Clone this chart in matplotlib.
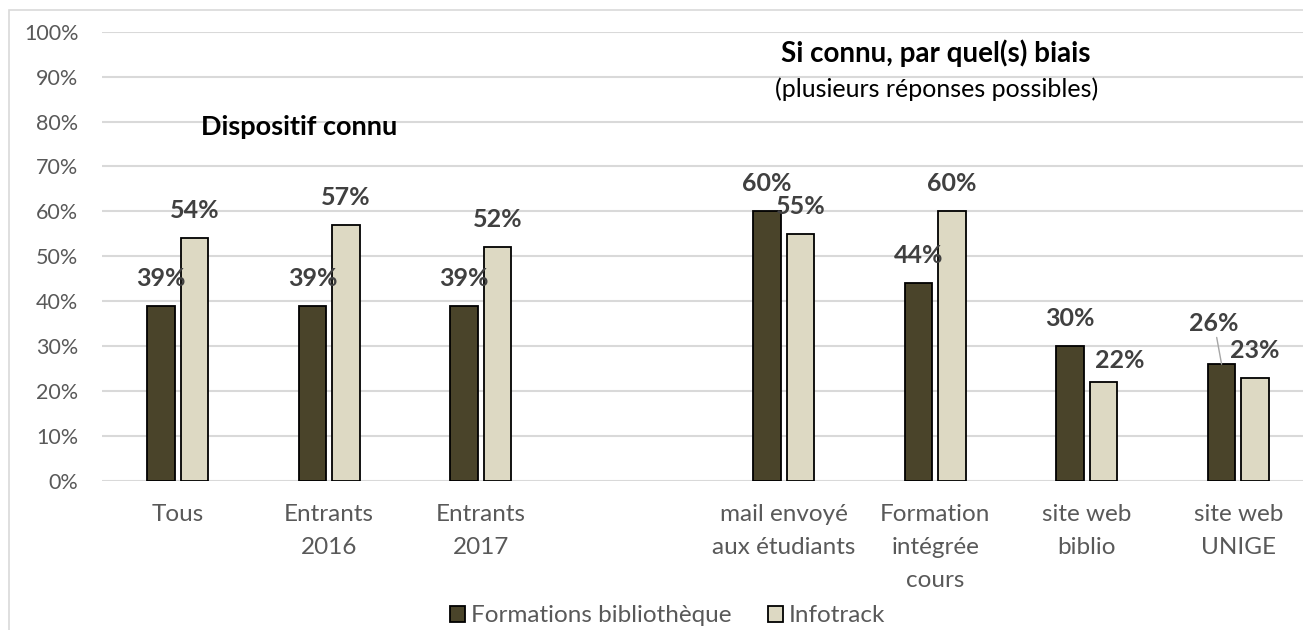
import matplotlib
matplotlib.use("Agg")
import matplotlib.pyplot as plt
import numpy as np
from matplotlib.patches import Rectangle, Patch

# ---- data ----
categories = ["Tous", "Entrants\n2016", "Entrants\n2017", "",
              "mail envoyé\naux étudiants", "Formation\nintégrée\ncours",
              "site web\nbiblio", "site web\nUNIGE"]
formations = [0.39, 0.39, 0.39, np.nan, 0.60, 0.44, 0.30, 0.26]
infotrack = [0.54, 0.57, 0.52, np.nan, 0.55, 0.60, 0.22, 0.23]
series_names = ["Formations bibliothèque", "Infotrack"]
yticks = [i / 10 for i in range(11)]
ytick_labels = [f"{i * 10}%" for i in range(11)]

# ---- style ----
W, H = 1303, 630
DARK = "#4a442a"
LIGHT = "#ddd9c3"
GRID = "#d9d9d9"
TICK = "#595959"
LABEL = "#404040"
plt.rcParams['font.family'] = ['Lato', 'DejaVu Sans']

fig = plt.figure(figsize=(W / 100, H / 100), dpi=100)
ax = fig.add_axes([102 / W, 149 / H, 1212 / W, 449.3 / H])

x = np.arange(len(categories))
off, bw = 0.11, 0.18
ax.bar(x - off, formations, bw, color=DARK, edgecolor="black", linewidth=1.3, zorder=3)
ax.bar(x + off, infotrack, bw, color=LIGHT, edgecolor="black", linewidth=1.3, zorder=3)

ax.set_xlim(-0.5, len(categories) - 0.5)
ax.set_ylim(0, 1)
ax.set_yticks(yticks)
ax.set_yticklabels(ytick_labels)
ax.set_xticks(x)
ax.set_xticklabels(categories, linespacing=1.7)
ax.tick_params(axis="both", length=0, colors=TICK)
ax.tick_params(axis="y", pad=17, labelsize=15.5)
ax.tick_params(axis="x", pad=16.5, labelsize=17.5)
ax.yaxis.grid(True, color=GRID, linewidth=1.5)
ax.set_axisbelow(True)
for s in ax.spines.values():
    s.set_visible(False)

# data labels (pixel offsets; a couple were moved by hand in the original)
moved = {(1, 6): (16, 22), (0, 7): (-7.5, 41)}
for si, (vals, sgn) in enumerate([(formations, -1), (infotrack, 1)]):
    for i, v in enumerate(vals):
        if np.isnan(v):
            continue
        dx, dy = moved.get((si, i), (0, 27.5))
        kw = {}
        if (si, i) == (0, 7):
            kw["arrowprops"] = dict(arrowstyle="-", color="#a6a6a6", lw=1,
                                    shrinkA=0, shrinkB=0)
        ax.annotate(f"{v * 100:.0f}%", xy=(i + sgn * off, v), xytext=(dx, dy),
                    textcoords="offset pixels", ha="center", va="center",
                    fontsize=18, fontweight="bold", color=LABEL, **kw)

# section titles
fig.text(299.5 / W, 1 - 127 / H, "Dispositif connu", ha="center", va="center",
         fontsize=19.5, fontweight="bold", color="black")
fig.text(936 / W, 1 - 53 / H, "Si connu, par quel(s) biais", ha="center", va="center",
         fontsize=20, fontweight="bold", color="black")
fig.text(936.5 / W, 1 - 89 / H, "(plusieurs réponses possibles)", ha="center", va="center",
         fontsize=18, color="black")

# legend
handles = [Patch(facecolor=DARK, edgecolor="black", linewidth=1.3),
           Patch(facecolor=LIGHT, edgecolor="black", linewidth=1.3)]
leg = fig.legend(handles, series_names, loc="center", ncol=2, frameon=False,
                 bbox_to_anchor=(667.5 / W, 1 - 616 / H), fontsize=17.5,
                 handlelength=0.62, handleheight=0.62, handletextpad=0.25,
                 columnspacing=1.5)
for t in leg.get_texts():
    t.set_color(TICK)

# chart-area border (cut off on the right and bottom)
fig.add_artist(Rectangle((9 / W, -0.1), 2, 1 - 10 / H + 0.1, transform=fig.transFigure,
                         fill=False, edgecolor=GRID, linewidth=1.2))

fig.savefig("out.png", dpi=100)
